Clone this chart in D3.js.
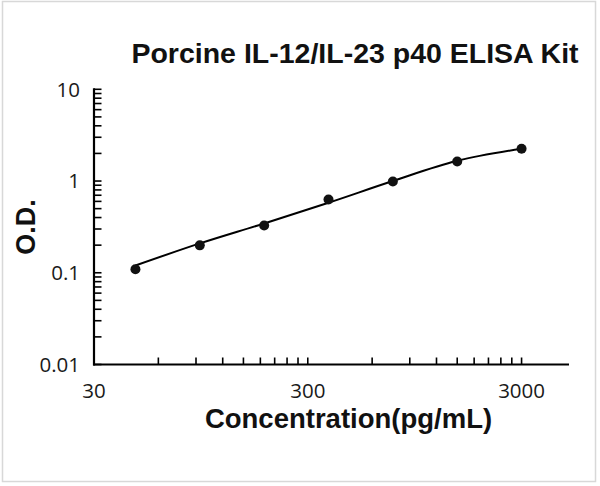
<!DOCTYPE html>
<html>
<head>
<meta charset="utf-8">
<script src="https://cdn.jsdelivr.net/npm/d3@7"></script>
<style>
  html, body { margin: 0; padding: 0; background: #fff; }
  .tick-label { font-family: "Open Sans", sans-serif; font-size: 20.5px; fill: #1a1a1a; }
  .bold-label { font-family: "Liberation Sans", Arial, sans-serif; font-weight: bold; fill: #111; }
</style>
</head>
<body>
<svg id="chart" width="600" height="486"></svg>
<script>
// Standard curve: concentration (pg/mL) vs O.D..
var conc = [46.875, 93.75, 187.5, 375, 750, 1500, 3000];
var od = [0.109, 0.199, 0.328, 0.63, 0.99, 1.63, 2.25];
// Fitted curve drawn through the standards.
var fitOd = [0.12, 0.209, 0.345, 0.58, 1.0, 1.66, 2.25];

var xLabels = [30, 300, 3000];
var yLabels = [0.01, 0.1, 1, 10];
var xDomain = [30, 5000];
var yDomain = [0.01, 10];

var titleText = 'Porcine IL-12/IL-23 p40 ELISA Kit';
var xTitle = 'Concentration(pg/mL)';
var yTitle = 'O.D.';

(function () {
  var svg = d3.select('#chart');

  // faint frame around the whole picture
  svg.append('rect').attr('x', 2.5).attr('y', 1.5).attr('width', 593).attr('height', 480)
    .attr('fill', 'none').attr('stroke', '#d8d8d8').attr('stroke-width', 1.5);

  var x = d3.scaleLog().domain(xDomain).range([94, 569]);
  var y = d3.scaleLog().domain(yDomain).range([364.5, 89.3]);

  // minor + major ticks: x at multiples of 30 within each decade, y at 1..9 per decade
  var xTicks = [];
  xLabels.forEach(function (d) {
    for (var i = 1; i <= 9; i++) if (d * i <= xDomain[1]) xTicks.push(d * i);
  });
  var yTicks = [];
  yLabels.forEach(function (d) {
    for (var i = 1; i <= 9; i++) if (d * i <= yDomain[1]) yTicks.push(d * i);
  });

  var g = svg.append('g');

  // tick marks (inside)
  g.selectAll('line.xt').data(xTicks).join('line').attr('class', 'xt')
    .attr('x1', function (d) { return x(d); }).attr('x2', function (d) { return x(d); })
    .attr('y1', 364.5).attr('y2', 357.5)
    .attr('stroke', '#000').attr('stroke-width', 1.6);
  g.selectAll('line.yt').data(yTicks).join('line').attr('class', 'yt')
    .attr('y1', function (d) { return y(d); }).attr('y2', function (d) { return y(d); })
    .attr('x1', 94).attr('x2', 101.5)
    .attr('stroke', '#000').attr('stroke-width', 1.6);

  // axis lines
  g.append('line').attr('x1', 94).attr('x2', 94).attr('y1', y(10) - 1).attr('y2', 365.5)
    .attr('stroke', '#000').attr('stroke-width', 2.2);
  g.append('line').attr('x1', 93).attr('x2', 569).attr('y1', 364.5).attr('y2', 364.5)
    .attr('stroke', '#000').attr('stroke-width', 2.2);

  // tick labels
  g.selectAll('text.xl').data(xLabels).join('text').attr('class', 'tick-label xl')
    .attr('x', function (d) { return x(d); }).attr('y', 398)
    .attr('text-anchor', 'middle').text(function (d) { return d; });
  g.selectAll('text.yl').data(yLabels).join('text').attr('class', 'tick-label yl')
    .attr('x', 80).attr('y', function (d) { return y(d); })
    .attr('dy', '0.36em').attr('text-anchor', 'end').text(function (d) { return d; });

  // fitted line
  var line = d3.line()
    .x(function (d, i) { return x(conc[i]); })
    .y(function (d) { return y(d); })
    .curve(d3.curveMonotoneX);
  g.append('path').attr('d', line(fitOd))
    .attr('fill', 'none').attr('stroke', '#000').attr('stroke-width', 2);

  // standards
  g.selectAll('circle').data(od).join('circle')
    .attr('cx', function (d, i) { return x(conc[i]); })
    .attr('cy', function (d) { return y(d); })
    .attr('r', 5).attr('fill', '#111');

  // titles
  svg.append('text').attr('class', 'bold-label').attr('x', 355).attr('y', 63)
    .attr('font-size', 28.5).attr('text-anchor', 'middle').text(titleText);
  svg.append('text').attr('class', 'bold-label').attr('x', 348.5).attr('y', 428)
    .attr('font-size', 27.5).attr('text-anchor', 'middle').text(xTitle);
  svg.append('text').attr('class', 'bold-label')
    .attr('transform', 'translate(35,227) rotate(-90)')
    .attr('font-size', 27).attr('text-anchor', 'middle').text(yTitle);
})();
</script>
</body>
</html>
